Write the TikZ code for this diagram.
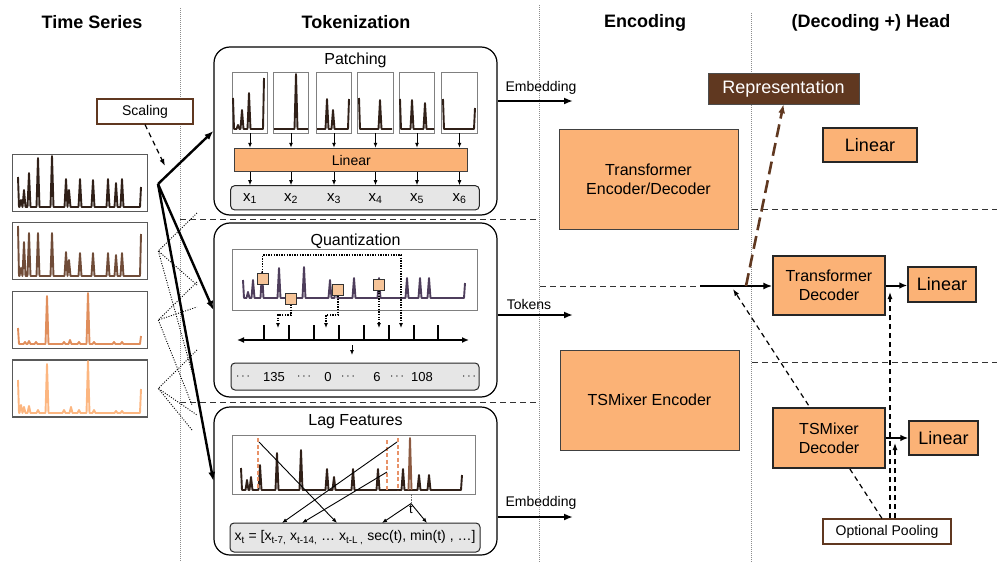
\documentclass[tikz,border=0pt]{standalone}
\usepackage{fontspec}
\setmainfont{Liberation Sans}
\usetikzlibrary{arrows.meta}

\definecolor{boxorange}{RGB}{251,178,118}
\definecolor{repbrown}{RGB}{96,56,32}
\definecolor{barfill}{RGB}{230,230,230}
\definecolor{serdark}{RGB}{48,32,24}
\definecolor{serbrown}{RGB}{112,76,56}
\definecolor{serorange}{RGB}{224,142,92}
\definecolor{serlight}{RGB}{252,182,128}
\definecolor{quantline}{RGB}{78,62,92}
\definecolor{lagmark}{RGB}{232,146,104}
\definecolor{lagspike}{RGB}{140,90,65}
\definecolor{sqfill}{RGB}{246,196,152}

\newcommand\spiky[5]{\draw[#1] #2 foreach \sx/\sy in {#4} { -- ({\sx-1.5},#3) -- (\sx,\sy) -- ({\sx+1.5},#3) } -- #5;}
\newcommand\cdts{\ensuremath{\cdots}}

\tikzset{
	hdr/.style={font=\fontsize{18}{20}\selectfont\bfseries},
	f13/.style={font=\fontsize{13}{15}\selectfont},
	f14/.style={font=\fontsize{14}{16}\selectfont},
	f15/.style={font=\fontsize{15}{17}\selectfont},
	f16/.style={font=\fontsize{16}{19}\selectfont},
	f18/.style={font=\fontsize{18}{21}\selectfont},
	colline/.style={black!45, line width=0.7pt, dash pattern=on 0.8pt off 1.2pt},
	sepline/.style={black!80, line width=1pt, dash pattern=on 6pt off 4pt},
	tsframe/.style={draw=black!65, line width=1.2pt, minimum width=135pt, minimum height=57pt, inner sep=0},
	tokbox/.style={draw, line width=1.2pt, rounded corners=16pt, minimum width=283pt, inner sep=0},
	plotframe/.style={draw=black!50, line width=0.7pt, inner sep=0},
	seqbar/.style={draw=black!85, fill=barfill, line width=1pt, rounded corners=4pt, inner sep=0},
	orangebox/.style={draw=black!75, fill=boxorange, line width=1pt, align=center, inner sep=0},
	headbox/.style={draw=black!85, fill=boxorange, line width=1.3pt, align=center, inner sep=0},
	brownbox/.style={draw=repbrown, fill=white, line width=1.1pt, inner sep=0},
	bigarrow/.style={-{Latex[length=9pt,width=7pt]}, line width=2.4pt},
	midarrow/.style={-{Latex[length=8pt,width=6.5pt]}, line width=2pt},
	thinarrow/.style={-{Latex[length=5pt,width=4pt]}, line width=0.9pt},
	dotarrow/.style={-{Latex[length=5pt,width=4pt]}, line width=1.3pt, dash pattern=on 1.3pt off 1.3pt},
	fanline/.style={line width=0.9pt, dash pattern=on 1pt off 1.5pt},
	dasharrow/.style={-{Latex[length=7pt,width=5pt]}, line width=1.2pt, dash pattern=on 5pt off 4pt},
	repline/.style={repbrown, -{Latex[length=9pt,width=7pt]}, line width=2.6pt, dash pattern=on 13pt off 6pt},
	serline/.style={line width=1.9pt, line join=round},
	lagline/.style={lagmark, line width=1.6pt, dash pattern=on 4pt off 2.5pt},
}

\begin{document}
\begin{tikzpicture}[x=1pt,y=-1pt]
	\useasboundingbox (0,0) rectangle (997,562);
	\draw[colline] (180,8) -- (180,562);
	\draw[colline] (539,5) -- (539,562);
	\draw[colline] (751,13) -- (751,562);
	\node[hdr] (hts) at (92,22) {Time Series};
	\node[hdr] (htok) at (356,22) {Tokenization};
	\node[hdr] (henc) at (645,23) {Encoding};
	\node[hdr] (hhead) at (871,23) {(Decoding +) Head};

	\foreach \i/\y in {1/183,2/251,3/320,4/388.5}
		\node[tsframe] (ts\i) at (80.2,\y) {};
	\spiky{serline, serdark}{(18,177) -- (19,207)}{207}{21/200,24/190,29/173,38/158,52/156,66/179,69/190,80/179,93/180,108/179,116/183,122/179}{(140,207) -- (141,187)}
	\spiky{serline, serbrown}{(18,226) -- (19,276)}{276}{21/268,24/242,29/233,38/233,52/233,66/252,69/260,80/253,93/253,108/253,116/255,122/253}{(140,276) -- (141,234)}
	\spiky{serline, serorange}{(18,328) -- (19,344)}{344}{25/342,29/341,36/342,47/296,64/342,70/340,79/342,88/293,94/342,114/342,122/342}{(140,344) -- (141,336)}
	\spiky{serline, serlight}{(18,380) -- (19,413)}{413}{21/405,24/407,29/406,38/410,47/364,64/410,71/407,79/410,88/361,94/410,116/411,122/411}{(140,413) -- (141,389)}

	\node[brownbox, f14, minimum width=96pt, minimum height=25pt] (scal) at (145,111.5) {Scaling};
	\coordinate (fork) at (158,184);
	\coordinate (scaltip) at (165,166);
	\draw[dasharrow] (scal.south) -- (scaltip);
	\foreach \s/\a/\b/\c in {2/213/285/372,3/282/307/405,4/350/415/430}{
		\draw[fanline] (197,\a) -- ([xshift=10pt]ts\s.east) -- (197,\b);
		\draw[fanline] ([xshift=10pt]ts\s.east) -- (192,\c);
	}

	\node[tokbox, minimum height=168pt] (patch) at (355.5,131) {};
	\node[f16] (patchttl) at (355.5,60.5) {Patching};
	\node[tokbox, minimum height=174pt] (quant) at (355.5,310) {};
	\node[f16] (quantttl) at (355.5,241) {Quantization};
	\node[tokbox, minimum height=148pt] (lag) at (355.5,481) {};
	\node[f16] (lagttl) at (355.5,422) {Lag Features};
	\draw[sepline] (180,219) -- (539,219);
	\draw[sepline] (180,402) -- (539,402);
	\draw[bigarrow] (fork) -- (patch.west);
	\draw[bigarrow] (fork) -- (quant.west);
	\draw[bigarrow] (fork) -- (lag.west);

	\node[orangebox, f14, minimum width=233pt, minimum height=23.5pt] (plin) at (351.3,160) {Linear};
	\node[seqbar, minimum width=248.6pt, minimum height=24.3pt] (ptok) at (355,197.8) {};
	\foreach \i/\x in {1/250,2/291,3/334,4/375.5,5/417,6/459.5}{
		\node[plotframe, minimum width=35.5pt, minimum height=61pt] (pp\i) at (\x,102.5) {};
		\draw[thinarrow] (pp\i.south) -- (pp\i.south |- plin.north);
		\draw[thinarrow] (pp\i.south |- plin.south) -- (pp\i.south |- ptok.north);
		\node[f15] (px\i) at (\x,198.5) {x\textsubscript{\i}};
	}
	\spiky{serline, serdark}{(233,98) -- (234,129)}{129}{238/125,242/110,249/93}{(263,129) -- (264,78)}
	\spiky{serline, serdark}{(274,129)}{129}{296/74}{(308,129)}
	\spiky{serline, serdark}{(317,129)}{129}{327/99,333/110}{(348,129) -- (349,99)}
	\spiky{serline, serdark}{(359,98) -- (360,129)}{129}{380/100}{(392,129)}
	\spiky{serline, serdark}{(400,99) -- (401,129)}{129}{412/100,425/103}{(434,129)}
	\draw[serline, serdark] (443,99) -- (444,129) -- (474,129) -- (475,108);

	\node[plotframe, minimum width=245pt, minimum height=61pt] (qplot) at (354.5,279.5) {};
	\spiky{serline, quantline}{(243,280) -- (244,298)}{298}{248/292,253/280,262/272,279/268,304/267,330/280,336/285,354/278,379/278,407/278,420/278,429/278}{(464,298) -- (465,283)}
	\foreach \i/\x/\y in {1/262.5/278.5,2/291/298.5,3/338/290,4/379/284.5}
		\node[draw=black!80, fill=sqfill, line width=1pt, minimum size=11pt, inner sep=0] (sq\i) at (\x,\y) {};
	\coordinate (qa1) at (401,328);
	\coordinate (qa2) at (278,328);
	\coordinate (qa3) at (326,328);
	\coordinate (qa4) at (379,328);
	\draw[dotarrow] (sq1.north) |- (401,255) -- (qa1);
	\draw[dotarrow] (sq2.south) |- (278,315) -- (qa2);
	\draw[dotarrow] (sq3.south) |- (326,315) -- (qa3);
	\draw[dotarrow] (sq4.south) -- (qa4);
	\draw[{Latex[length=7pt,width=6pt]}-{Latex[length=7pt,width=6pt]}, line width=1.4pt] (237,340) -- (469,340);
	\foreach \x in {264,289,314,339,364,389,414,438}
		\draw[line width=1.3pt] (\x,325) -- (\x,340);
	\node[seqbar, minimum width=248pt, minimum height=27pt] (qtok) at (355,376.5) {};
	\coordinate (qdown) at (352,345);
	\draw[thinarrow] (qdown) -- (352,355);
	\foreach \x/\v in {243/\cdts,274/135,304/\cdts,328/0,348/\cdts,377/6,397/\cdts,422/108,469/\cdts}
		\node[f13] at (\x,377) {\v};

	\node[plotframe, minimum width=243pt, minimum height=59pt] (lplot) at (353.5,464.5) {};
	\spiky{serline, serdark}{(241,468) -- (242,490)}{490}{247/480,251/477,260/465,277/453,301/450,327/469,334/477,353/469,378/469,403/469,419/475,429/475}{(461,490) -- (462,475)}
	\draw[serline, lagspike] (408.5,490) -- (410,438) -- (411.5,490);
	\draw[lagline] (258,438) -- (258,490);
	\draw[lagline] (387,440) -- (387,490);
	\draw[lagline] (398,438) -- (398,490);
	\node[f13, inner sep=1pt] (tmark) at (411,509) {t};
	\draw[black!60, line width=0.6pt, dash pattern=on 1.5pt off 1pt] (411,494) -- (tmark.north);
	\node[seqbar, f14, minimum width=250pt, minimum height=29pt] (lform) at (355,537.5) {x\textsubscript{t} = [x\textsubscript{t-7,} x\textsubscript{t-14,} \dots{} x\textsubscript{t-L ,} sec(t), min(t) , \dots]};
	\coordinate (lagA) at (259,442);
	\coordinate (lagB) at (397,442);
	\coordinate (lagC) at (387,472);
	\coordinate (x7) at (282,523);
	\coordinate (x14) at (302,523);
	\coordinate (xl) at (337,523);
	\coordinate (xsec) at (382,523);
	\coordinate (xmin) at (427,523);
	\draw[thinarrow] (lagA) -- (xl);
	\draw[thinarrow] (lagB) -- (x7);
	\draw[thinarrow] (lagC) -- (x14);
	\draw[thinarrow] (tmark.north) -- (xsec);
	\draw[thinarrow] (tmark.north) -- (xmin);

	\node[f14] (emb1lbl) at (541,88) {Embedding};
	\coordinate (emb1) at (573,101);
	\draw[bigarrow] (patch.east |- emb1) -- (emb1);
	\node[f14] (toklbl) at (529,304) {Tokens};
	\coordinate (tok) at (573,315);
	\draw[bigarrow] (quant.east |- tok) -- (tok);
	\node[f14] (emb2lbl) at (541,503) {Embedding};
	\coordinate (emb2) at (573,517);
	\draw[bigarrow] (lag.east |- emb2) -- (emb2);
	\node[orangebox, f16, minimum width=179pt, minimum height=100pt] (tenc) at (648.5,179) {Transformer\\Encoder/Decoder};
	\node[orangebox, f16, minimum width=179pt, minimum height=100pt] (tsenc) at (649.5,400) {TSMixer Encoder};

	\draw[sepline] (752,209) -- (997,209);
	\draw[sepline] (752,362) -- (997,362);
	\node[fill=repbrown, draw=black!70, text=white, f18, minimum width=151pt, minimum height=31pt, inner sep=0] (rep) at (783.5,88.5) {Representation};
	\node[headbox, f18, minimum width=94pt, minimum height=34pt] (lin1) at (870,145) {Linear};
	\node[brownbox, f14, minimum width=128pt, minimum height=25pt] (pool) at (887,531.5) {Optional Pooling};
	\coordinate (poolA) at (733,289);
	\coordinate (poolB) at (890,292);
	\coordinate (poolC) at (895,443);
	\draw[dasharrow] ([xshift=-5pt]pool.north) -- (poolA);
	\draw[dasharrow] ([xshift=3pt]pool.north) -- (poolB);
	\draw[dasharrow] ([xshift=8pt]pool.north) -- (poolC);
	\node[headbox, f16, minimum width=112pt, minimum height=59pt] (tdec) at (829,285.5) {Transformer\\Decoder};
	\node[headbox, f18, minimum width=68pt, minimum height=35pt] (lin2) at (942,284.5) {Linear};
	\node[headbox, f16, minimum width=112pt, minimum height=60pt] (tsdec) at (829,438) {TSMixer\\Decoder};
	\node[headbox, f18, minimum width=69pt, minimum height=34pt] (lin3) at (943.5,438) {Linear};
	\draw[midarrow] (tdec.east) -- (tdec.east -| lin2.west);
	\draw[midarrow] (tsdec.east) -- (tsdec.east -| lin3.west);
	\coordinate (tokstart) at (540,286);
	\coordinate (tokbend) at (700,286);
	\draw[sepline] (tokstart) -- (tokbend);
	\draw[bigarrow] (tokbend) -- (tdec.west |- tokbend);
	\coordinate (repstart) at (746,286);
	\draw[repline] (repstart) -- (rep.south);
\end{tikzpicture}
\end{document}
